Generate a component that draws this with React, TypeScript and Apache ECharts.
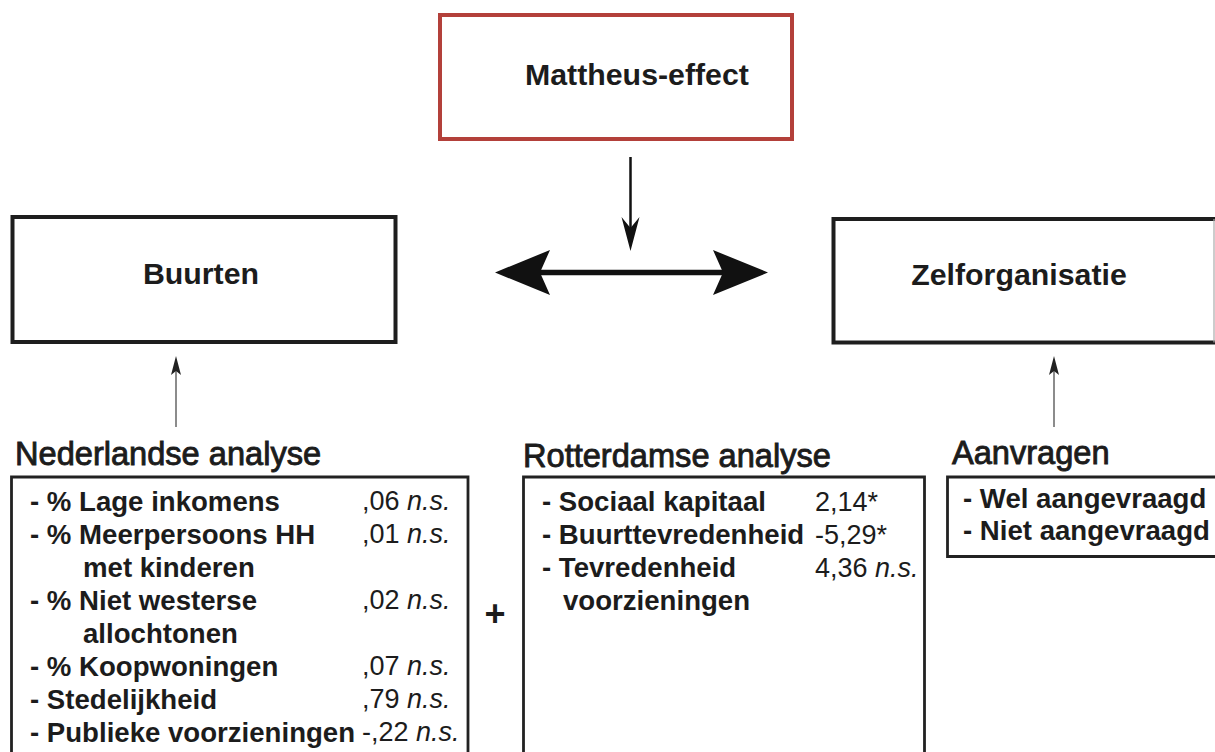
import React, { useEffect, useRef } from "react";
import * as echarts from "echarts";

// ---- content ----
const topTitle = "Mattheus-effect";
const leftTitle = "Buurten";
const rightTitle = "Zelforganisatie";

const nlTitle = "Nederlandse analyse";
const nlLabels: string[][] = [
  ["- % Lage inkomens"],
  ["- % Meerpersoons HH", "met kinderen"],
  ["- % Niet westerse", "allochtonen"],
  ["- % Koopwoningen"],
  ["- Stedelijkheid"],
  ["- Publieke voorzieningen"],
];
const nlValues = [",06", ",01", ",02", ",07", ",79", "-,22"];
const nlSig = ["n.s.", "n.s.", "n.s.", "n.s.", "n.s.", "n.s."];

const rdTitle = "Rotterdamse analyse";
const rdLabels: string[][] = [
  ["- Sociaal kapitaal"],
  ["- Buurttevredenheid"],
  ["- Tevredenheid", "voorzieningen"],
];
const rdValues = ["2,14", "-5,29", "4,36"];
const rdSig = ["*", "*", "n.s."];

const avTitle = "Aanvragen";
const avLabels = ["- Wel aangevraagd", "- Niet aangevraagd"];

const FF = "'Liberation Sans', Arial, sans-serif";
const INK = "#1c1c1c";
const ITEM = 27.6;

function txt(text: string, x: number, y: number, size: number, weight: string, align = "left", extra: any = {}) {
  return {
    type: "text",
    silent: true,
    style: {
      text,
      x,
      y,
      font: `${weight} ${size}px ${FF}`,
      fill: INK,
      align,
      textAlign: align,
      verticalAlign: "middle",
      textVerticalAlign: "middle",
      ...extra,
    },
  };
}

function valueText(v: string, sig: string, x: number, y: number) {
  const s = sig === "*" ? `{n|${v}*}` : `{n|${v} }{i|${sig}}`;
  return {
    type: "text",
    silent: true,
    style: {
      text: s,
      x,
      y,
      fill: INK,
      font: `normal 27px ${FF}`,
      align: "left",
      textAlign: "left",
      verticalAlign: "middle",
      textVerticalAlign: "middle",
      rich: {
        n: { fontSize: 27, fontFamily: FF, fontWeight: "normal", fill: INK },
        i: { fontSize: 27, fontFamily: FF, fontWeight: "normal", fontStyle: "italic", fill: INK },
      },
    },
  };
}

function openBox(x1: number, y: number, x2: number, w = 2.8) {
  return {
    type: "polyline",
    silent: true,
    shape: { points: [[x1, 770], [x1, y], [x2, y], [x2, 770]] },
    style: { stroke: "#222", lineWidth: w, fill: null },
  };
}

function buildListRows(labels: string[][], values: string[], sig: string[], xLabel: number, xIndent: number, xValue: number, base0: number, step: number) {
  const els: any[] = [];
  let row = 0;
  labels.forEach((parts, i) => {
    parts.forEach((p, j) => {
      const baseline = base0 + step * row;
      const y = baseline - 9.5;
      els.push(txt(p, j === 0 ? xLabel : xIndent, y, ITEM, "bold"));
      if (j === 0) els.push(valueText(values[i], sig[i], xValue, y));
      row++;
    });
  });
  return els;
}

export default function App() {
  const ref = useRef<HTMLDivElement>(null);
  useEffect(() => {
    if (!ref.current) return;
    const chart = echarts.init(ref.current, undefined, { renderer: "svg" });
    const elements: any[] = [];

    // top boxes
    elements.push({
      type: "rect", silent: true,
      shape: { x: 440, y: 15, width: 352, height: 124 },
      style: { fill: "#fff", stroke: "#b3403a", lineWidth: 4 },
    });
    elements.push(txt(topTitle, 525, 74.5, 30.3, "bold"));

    elements.push({
      type: "rect", silent: true,
      shape: { x: 12.5, y: 217, width: 383, height: 125 },
      style: { fill: "#fff", stroke: "#1e1e1e", lineWidth: 4 },
    });
    elements.push(txt(leftTitle, 201, 273, 30.3, "bold", "center"));

    elements.push({
      type: "polyline", silent: true,
      shape: { points: [[1216, 219], [833.5, 219], [833.5, 342.5], [1216, 342.5]] },
      style: { stroke: "#1e1e1e", lineWidth: 4, fill: null },
    });
    elements.push({
      type: "line", silent: true,
      shape: { x1: 1214, y1: 219, x2: 1214, y2: 342.5 },
      style: { stroke: "#aaa", lineWidth: 1.2 },
    });
    elements.push(txt(rightTitle, 1019, 274, 30.3, "bold", "center"));

    // vertical arrow from Mattheus
    elements.push({
      type: "line", silent: true,
      shape: { x1: 630.5, y1: 157, x2: 630.5, y2: 232 },
      style: { stroke: "#111", lineWidth: 2.5 },
    });
    elements.push({
      type: "polygon", silent: true,
      shape: { points: [[630.5, 251], [621.5, 217], [630.5, 228], [639.5, 217]] },
      style: { fill: "#111" },
    });

    // double arrow
    elements.push({
      type: "line", silent: true,
      shape: { x1: 535, y1: 272.5, x2: 728, y2: 272.5 },
      style: { stroke: "#111", lineWidth: 5.5 },
    });
    elements.push({
      type: "polygon", silent: true,
      shape: { points: [[495, 272.5], [550, 250], [540, 272.5], [550, 295]] },
      style: { fill: "#111" },
    });
    elements.push({
      type: "polygon", silent: true,
      shape: { points: [[768, 272.5], [713, 250], [723, 272.5], [713, 295]] },
      style: { fill: "#111" },
    });

    // small upward arrows
    [176, 1054].forEach((x) => {
      elements.push({
        type: "line", silent: true,
        shape: { x1: x, y1: 371, x2: x, y2: 427 },
        style: { stroke: "#8c8c8c", lineWidth: 2 },
      });
      elements.push({
        type: "polygon", silent: true,
        shape: { points: [[x, 356], [x - 5, 375], [x, 371], [x + 5, 375]] },
        style: { fill: "#222" },
      });
    });

    // section titles
    const titleExtra = { stroke: INK, lineWidth: 0.9 };
    elements.push(txt(nlTitle, 15, 453, 32.6, "normal", "left", titleExtra));
    elements.push(txt(rdTitle, 523, 455, 32.6, "normal", "left", titleExtra));
    elements.push(txt(avTitle, 952, 452, 32.6, "normal", "left", titleExtra));

    // boxes
    elements.push(openBox(11.5, 477, 468));
    elements.push(openBox(523.5, 477, 924.5));
    elements.push({
      type: "polyline", silent: true,
      shape: { points: [[1217, 477], [947.5, 477], [947.5, 556.5], [1217, 556.5]] },
      style: { stroke: "#222", lineWidth: 2.8, fill: null },
    });

    // list rows
    elements.push(...buildListRows(nlLabels, nlValues, nlSig, 30, 83, 362, 510.5, 33));
    elements.push(...buildListRows(rdLabels, rdValues, rdSig, 542, 563, 815, 511, 33));
    avLabels.forEach((l, i) => elements.push(txt(l, 963, 508 + 32 * i - 9.5, ITEM, "bold")));

    // plus sign
    elements.push(txt("+", 495, 613, 36, "bold", "center"));

    chart.setOption({
      animation: false,
      backgroundColor: "#fff",
      graphic: { elements },
    });
    return () => chart.dispose();
  }, []);

  return (
    <div
      ref={ref}
      style={{ position: "absolute", left: 0, top: 0, width: 1215, height: 752, background: "#fff" }}
    />
  );
}
